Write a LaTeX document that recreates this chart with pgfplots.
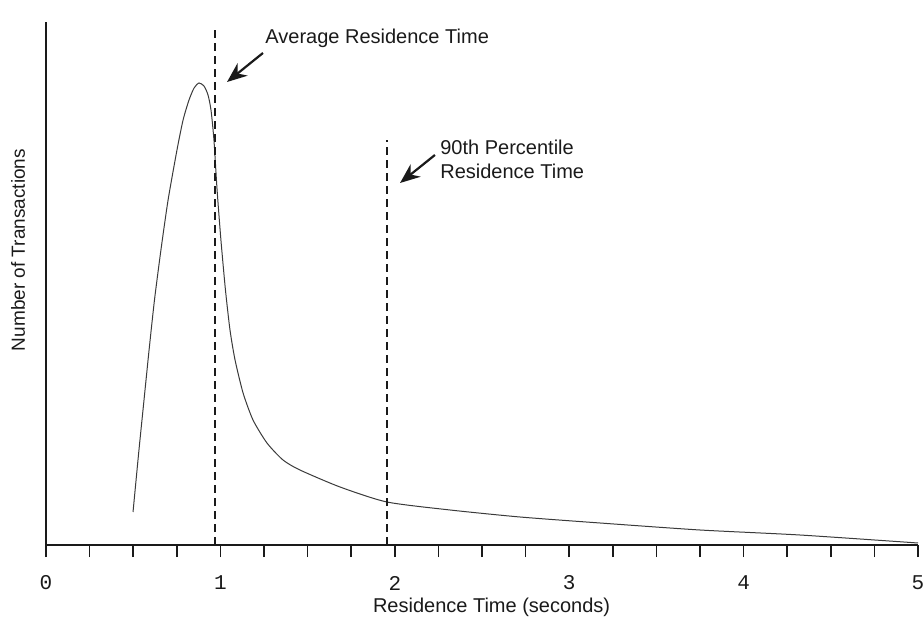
\documentclass[border=0pt]{standalone}
\usepackage{fontspec}
\usepackage{pgfplots}
\pgfplotsset{compat=1.18}
\usetikzlibrary{arrows.meta}
\setmainfont{Liberation Sans}
\newfontfamily\monofont{Liberation Mono}
\definecolor{ink}{HTML}{1A1A1A}
\definecolor{curve}{HTML}{3A3A3A}

\begin{document}
\begin{tikzpicture}
\begin{axis}[
  name=ax,
  scale only axis,
  width=436pt,height=261.5pt,
  xmin=0,xmax=5,ymin=0,ymax=523,
  axis x line=bottom,axis y line=left,
  axis line style={-,line width=0.9pt,ink},
  xtick={0,1,2,3,4,5},
  xticklabels={0,1,2,3,4,5},
  minor x tick num=3,
  ytick=\empty,
  tick align=outside,
  major tick length=6pt,minor tick length=6pt,
  every tick/.style={ink,line width=0.8pt},
  xticklabel style={font=\monofont\fontsize{10.5}{12}\selectfont,text=ink,anchor=center,yshift=-13pt},
  xlabel={Residence Time (seconds)},
  ylabel={Number of Transactions},
  every axis x label/.style={at={(axis description cs:0.511,-0.1185)},anchor=center,font=\fontsize{10}{12}\selectfont,text=ink},
  every axis y label/.style={at={(axis description cs:-0.032,0.564)},rotate=90,anchor=center,font=\fontsize{9.5}{12}\selectfont,text=ink},
  clip=false,
]
% residence time distribution
\addplot[curve,line width=0.5pt,smooth,tension=0.4] coordinates {
  (0.499,33) (0.533,95) (0.562,145) (0.591,195) (0.622,245) (0.659,295)
  (0.700,345) (0.751,395) (0.786,425) (0.820,445) (0.849,457) (0.877,462)
  (0.906,459) (0.929,450) (0.946,435) (0.963,405) (0.981,355) (1.003,305)
  (1.029,255) (1.055,215) (1.084,185) (1.130,152) (1.187,125) (1.267,102)
  (1.359,85) (1.456,75) (1.686,58) (1.955,43) (2.317,35) (2.718,28)
  (3.177,22) (3.750,15) (4.323,10) (5.0,2)
};
% average and 90th percentile markers
\addplot[ink,line width=0.8pt,dash pattern=on 4pt off 2.5pt] coordinates {(0.969,0) (0.969,515)};
\addplot[ink,line width=0.8pt,dash pattern=on 4pt off 2.5pt] coordinates {(1.955,0) (1.955,405)};
\draw[ink,line width=1.1pt,-{Stealth[length=10pt,width=8pt]}] (axis cs:1.244,492) -- (axis cs:1.038,463);
\draw[ink,line width=1.1pt,-{Stealth[length=10pt,width=8pt]}] (axis cs:2.230,390) -- (axis cs:2.030,362);
\node[anchor=west,text=ink,font=\fontsize{10}{12}\selectfont,inner sep=0pt] at (axis cs:1.256,507) {Average Residence Time};
\node[anchor=west,text=ink,font=\fontsize{10}{12}\selectfont,inner sep=0pt,align=left] at (axis cs:2.259,386) {90th Percentile\\Residence Time};
\end{axis}
\pgfresetboundingbox
\path[use as bounding box] (ax.south west) ++(-23pt,-40pt) rectangle ++(462pt,312.5pt);
\end{tikzpicture}
\end{document}
